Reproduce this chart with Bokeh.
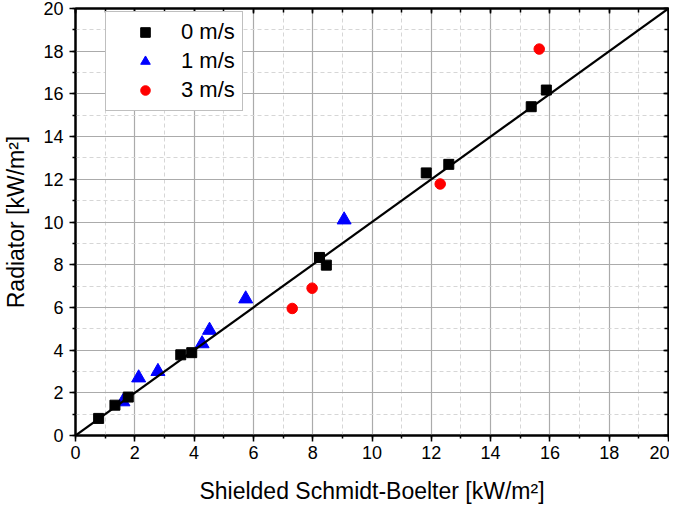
from bokeh.plotting import figure
from bokeh.models import (LinearAxis, SingleIntervalTicker, Range1d, Legend, LegendItem,
                          Grid, CustomJSTickFormatter)
from bokeh.embed import file_html
from bokeh.resources import INLINE

# ---- data ----
sq_x = [0.78, 1.33, 1.78, 3.55, 3.92, 8.23, 8.46, 11.83, 12.59, 15.37, 15.88]
sq_y = [0.80, 1.42, 1.80, 3.78, 3.88, 8.34, 7.98, 12.30, 12.70, 15.40, 16.18]
tri_x = [1.60, 2.13, 2.78, 4.27, 4.52, 5.74, 9.06]
tri_y = [1.58, 2.70, 3.00, 4.30, 4.93, 6.40, 10.10]
red_x = [7.31, 7.98, 12.30, 15.64]
red_y = [5.95, 6.90, 11.78, 18.10]
fit_x = [0, 20]
fit_y = [0, 20]
series_labels = ["0 m/s", "1 m/s", "3 m/s"]
x_title = "Shielded Schmidt-Boelter [kW/m²]"
y_title = "Radiator [kW/m²]"

FONT = "Liberation Sans"

p = figure(width=669, height=506, min_border_left=70, min_border_right=1,
           min_border_top=8, min_border_bottom=70,
           x_range=Range1d(0, 20), y_range=Range1d(0, 20),
           output_backend="svg", toolbar_location=None,
           x_axis_type=None, y_axis_type=None)
p.background_fill_color = "white"
p.border_fill_color = "white"
p.outline_line_color = "black"
p.outline_line_width = 2


def make_axis(visible_labels, inside):
    ax = LinearAxis(ticker=SingleIntervalTicker(interval=2, num_minor_ticks=2))
    ax.axis_line_color = "black"
    ax.axis_line_width = 2
    ax.major_tick_line_width = 1.5
    ax.minor_tick_line_width = 1.5
    if inside:
        ax.major_tick_in, ax.major_tick_out = 5, 0
        ax.minor_tick_in, ax.minor_tick_out = 4, 0
    else:
        ax.major_tick_in, ax.major_tick_out = 0, 6
        ax.minor_tick_in, ax.minor_tick_out = 0, 3
    if visible_labels:
        ax.major_label_text_font = FONT
        ax.major_label_text_font_size = "18px"
        ax.major_label_text_color = "black"
        ax.axis_label_text_font = FONT
        ax.axis_label_text_font_size = "23px"
        ax.axis_label_text_font_style = "normal"
        ax.axis_label_text_color = "black"
    else:
        ax.formatter = CustomJSTickFormatter(code="return '';")
        ax.major_label_text_font_size = "1px"
        ax.major_label_standoff = 0
    return ax


xb = make_axis(True, False)
xb.axis_label = x_title
xb.major_label_standoff = 4
xb.axis_label_standoff = 16
yl = make_axis(True, False)
yl.axis_label = y_title
yl.major_label_standoff = 6
yl.axis_label_standoff = 11
xt = make_axis(False, True)
yr = make_axis(False, True)
p.add_layout(xb, "below")
p.add_layout(yl, "left")
p.add_layout(xt, "above")
p.add_layout(yr, "right")

for dim, ax in ((0, xb), (1, yl)):
    g = Grid(dimension=dim, ticker=ax.ticker)
    g.grid_line_color = "#ababab"
    g.grid_line_width = 1.2
    g.minor_grid_line_color = "#d6d6d6"
    g.minor_grid_line_dash = "4 3"
    g.minor_grid_line_width = 1
    p.add_layout(g, "center")

r_tri = p.scatter(tri_x, tri_y, marker="triangle", size=14, color="#0000ff")
p.line(fit_x, fit_y, line_color="black", line_width=2.2)
r_sq = p.scatter(sq_x, sq_y, marker="square", size=10, color="black")
r_red = p.scatter(red_x, red_y, marker="circle", size=10.5, color="#ff0000")

legend = Legend(items=[LegendItem(label=series_labels[0], renderers=[r_sq]),
                       LegendItem(label=series_labels[1], renderers=[r_tri]),
                       LegendItem(label=series_labels[2], renderers=[r_red])],
                location=(30, 324))
legend.label_text_font = FONT
legend.label_text_font_size = "22px"
legend.label_text_color = "black"
legend.glyph_width = 64
legend.glyph_height = 24
legend.label_height = 24
legend.label_standoff = 4
legend.spacing = 3
legend.padding = 7
legend.margin = 0
legend.border_line_color = "#808080"
legend.border_line_width = 1.5
legend.background_fill_color = "white"
legend.background_fill_alpha = 1
p.add_layout(legend, "center")

open("out.html", "w").write(file_html(p, INLINE))
